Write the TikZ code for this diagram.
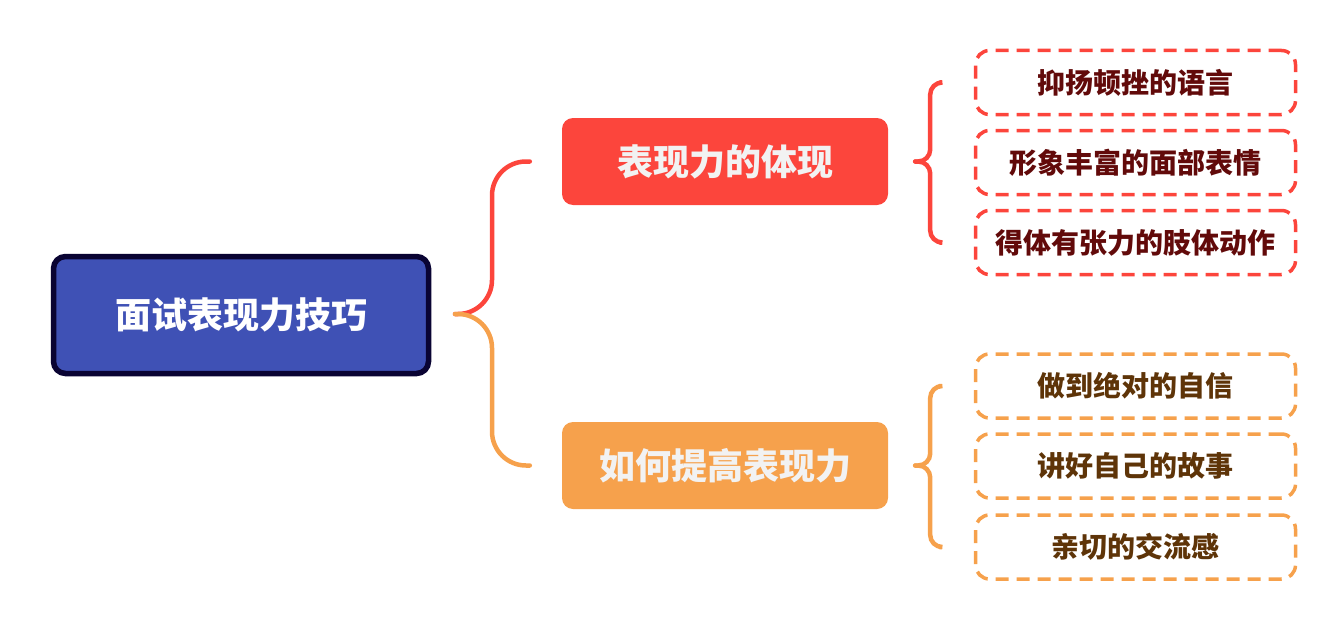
\documentclass[tikz,border=0pt]{standalone}
\usepackage{fontspec}
\newfontfamily\cjk{Noto Sans CJK SC}
\definecolor{rootfill}{HTML}{3F51B5}
\definecolor{rootdraw}{HTML}{0A0433}
\definecolor{redc}{HTML}{FC453C}
\definecolor{orac}{HTML}{F6A14C}
\definecolor{redtxt}{HTML}{620A0A}
\definecolor{oratxt}{HTML}{5E3408}
\definecolor{lighttxt}{HTML}{F2F2F2}
\tikzset{
  rootbox/.style={draw=rootdraw, fill=rootfill, line width=5.5pt, rounded corners=12pt,
    minimum width=375pt, minimum height=117pt, text=white, font=\cjk\bfseries\fontsize{36}{40}\selectfont},
  midbox/.style={rounded corners=11pt, minimum width=326pt, minimum height=87pt,
    text=lighttxt, font=\cjk\bfseries\fontsize{36}{40}\selectfont},
  leafbox/.style={line width=3.5pt, rounded corners=14pt, dash pattern=on 13pt off 8pt,
    minimum width=320pt, minimum height=64pt, font=\cjk\bfseries\fontsize{28}{32}\selectfont},
  brace/.style={line width=4.5pt, line cap=round}
}
\begin{document}
\begin{tikzpicture}[x=1pt,y=-1pt]
\useasboundingbox (0,0) rectangle (1342,634);
\node[rootbox] (root) at (241,315) {面试表现力技巧};
\node[midbox, fill=redc] (m1) at (725,161.5) {表现力的体现};
\node[midbox, fill=orac] (m2) at (725,465.5) {如何提高表现力};
\node[leafbox, draw=redc, text=redtxt] (a1) at (1135.5,82.5) {抑扬顿挫的语言};
\node[leafbox, draw=redc, text=redtxt] (a2) at (1135.5,162.5) {形象丰富的面部表情};
\node[leafbox, draw=redc, text=redtxt] (a3) at (1135.5,242.5) {得体有张力的肢体动作};
\node[leafbox, draw=orac, text=oratxt] (b1) at (1135.5,386) {做到绝对的自信};
\node[leafbox, draw=orac, text=oratxt] (b2) at (1135.5,466) {讲好自己的故事};
\node[leafbox, draw=orac, text=oratxt] (b3) at (1135.5,547) {亲切的交流感};
\coordinate (t0) at (455,314);
\draw[brace, draw=redc, rounded corners=34pt] (t0) -- ++(37,0) |- ([xshift=-32pt]m1.west);
\draw[brace, draw=orac, rounded corners=34pt] (t0) -- ++(37,0) |- ([xshift=-32pt]m2.west);
\coordinate (t1) at ([xshift=27pt]m1.east);
\coordinate (t2) at ([xshift=27pt]m2.east);
\draw[brace, draw=redc, rounded corners=12pt] ([xshift=-34pt]a1.west) -| ([xshift=15pt]t1) -- (t1);
\draw[brace, draw=redc, rounded corners=12pt] ([xshift=-34pt]a3.west) -| ([xshift=15pt]t1) -- (t1);
\draw[brace, draw=orac, rounded corners=12pt] ([xshift=-34pt]b1.west) -| ([xshift=15pt]t2) -- (t2);
\draw[brace, draw=orac, rounded corners=12pt] ([xshift=-34pt]b3.west) -| ([xshift=15pt]t2) -- (t2);
\end{tikzpicture}
\end{document}
